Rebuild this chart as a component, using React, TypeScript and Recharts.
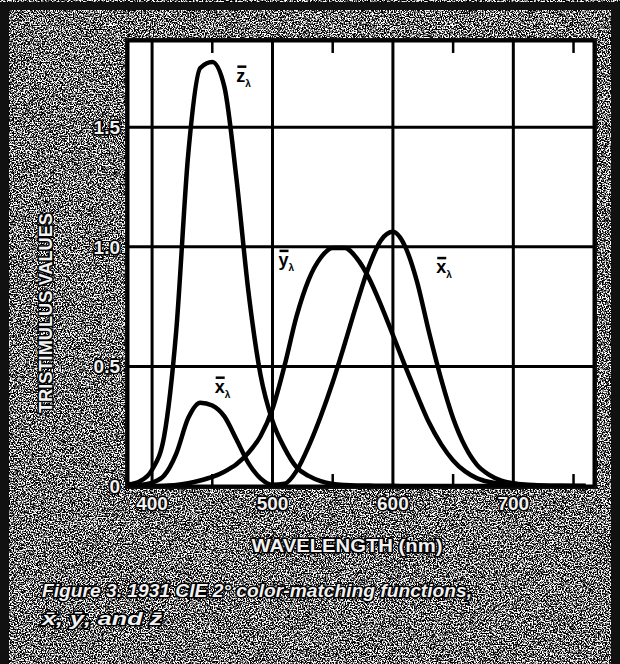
// @ts-nocheck
import { LineChart, Line, XAxis, YAxis, CartesianGrid, ReferenceLine, ReferenceDot } from 'recharts'

// CIE 1931 2° colour-matching functions, 10 nm steps
const wavelengths = [380, 390, 400, 410, 420, 430, 440, 450, 460, 470, 480, 490, 500, 510, 520, 530, 540, 550, 560, 570, 580, 590, 600, 610, 620, 630, 640, 650, 660, 670, 680, 690, 700, 710, 720, 730, 740, 750, 760]
const xBar = [0.0014, 0.0042, 0.0143, 0.0435, 0.1344, 0.2839, 0.3483, 0.3362, 0.2908, 0.1954, 0.0956, 0.032, 0.0049, 0.0093, 0.0633, 0.1655, 0.2904, 0.4334, 0.5945, 0.7621, 0.9163, 1.0263, 1.0622, 1.0026, 0.8544, 0.6424, 0.4479, 0.2835, 0.1649, 0.0874, 0.0468, 0.0227, 0.0114, 0.0058, 0.0029, 0.0014, 0.0007, 0.0003, 0.0002]
const yBar = [0.0000, 0.0001, 0.0004, 0.0012, 0.004, 0.0116, 0.023, 0.038, 0.06, 0.091, 0.139, 0.208, 0.323, 0.503, 0.71, 0.862, 0.954, 0.995, 0.995, 0.952, 0.87, 0.757, 0.631, 0.503, 0.381, 0.265, 0.175, 0.107, 0.061, 0.032, 0.017, 0.0082, 0.0041, 0.0021, 0.001, 0.0005, 0.0002, 0.0001, 0.0001]
const zBar = [0.0065, 0.0201, 0.0679, 0.2074, 0.6456, 1.3856, 1.7471, 1.7721, 1.6692, 1.2876, 0.813, 0.4652, 0.272, 0.1582, 0.0782, 0.0422, 0.0203, 0.0087, 0.0039, 0.0021, 0.0017, 0.0011, 0.0008, 0.0003, 0.0002, 0, 0, 0, 0, 0, 0, 0, 0, 0, 0, 0, 0, 0, 0]

const xTicks = [400, 500, 600, 700]
const minorTicks = [450, 550, 650, 750]
const yTicks = [0, 0.5, 1, 1.5]

const data = wavelengths.map((w, i) => ({ w, x: xBar[i], y: yBar[i], z: zBar[i] }))

const FONT = "'Liberation Sans Narrow', 'Liberation Sans', Arial, sans-serif"
const outlined = { fill: '#f2f2f2', stroke: '#000', strokeWidth: 3, paintOrder: 'stroke', fontFamily: FONT, fontWeight: 'bold' }

const XTick = ({ x, y, payload }) => (
  <text x={x} y={y + 16} textAnchor="middle" fontSize={19} {...outlined}>{payload.value}</text>
)
const YTick = ({ x, y, payload }) => (
  <text x={x} y={y + 7} textAnchor="end" fontSize={19} {...outlined}>
    {payload.value === 0 ? '0' : payload.value.toFixed(1)}
  </text>
)

const CurveLabel = ({ cx, cy, letter }) => (
  <g>
    <text x={cx} y={cy} fontSize={18} fontWeight="bold" fontFamily="'Liberation Sans', Arial, sans-serif" fill="#000">
      {letter}
      <tspan fontSize={10} dy={5}>λ</tspan>
    </text>
    <line x1={cx + 1} x2={cx + 10} y1={cy - 15} y2={cy - 15} stroke="#000" strokeWidth={2.5} />
  </g>
)

export default function App() {
  return (
    <div style={{ position: 'absolute', left: 0, top: 0, width: 620, height: 664, overflow: 'hidden' }}>
      <svg width={620} height={664} style={{ position: 'absolute', left: 0, top: 0 }}>
        <defs>
          <filter id="grain" x="0" y="0" width="100%" height="100%" colorInterpolationFilters="sRGB">
            <feTurbulence type="fractalNoise" baseFrequency="0.75" numOctaves="2" seed="7" />
            <feColorMatrix type="matrix" values="1 0 0 0 0  1 0 0 0 0  1 0 0 0 0  0 0 0 0 1" />
            <feComponentTransfer>
              <feFuncR type="linear" slope="6" intercept="-2.6" />
              <feFuncG type="linear" slope="6" intercept="-2.6" />
              <feFuncB type="linear" slope="6" intercept="-2.6" />
            </feComponentTransfer>
          </filter>
        </defs>
        <rect x={0} y={0} width={620} height={664} fill="#777" />
        <rect x={0} y={0} width={620} height={664} filter="url(#grain)" />
        <rect x={0} y={2} width={620} height={8} fill="#111" />
        <rect x={0} y={2} width={9} height={662} fill="#111" />
        <rect x={611} y={2} width={9} height={662} fill="#111" />
        <rect x={125} y={38} width={472} height={451} fill="#111" />
      </svg>
      <div style={{ position: 'absolute', left: 0, top: 0 }}>
        <LineChart width={620} height={664} data={data} margin={{ top: 41, right: 26, left: 68, bottom: 148 }}>
          <CartesianGrid stroke="#000" strokeWidth={3} fill="#fff" fillOpacity={1} />
          <XAxis dataKey="w" type="number" domain={[380, 767]} ticks={xTicks} allowDataOverflow height={30} axisLine={false} tickLine={false} tick={<XTick />} interval={0} />
          <YAxis type="number" domain={[0, 1.86]} ticks={yTicks} allowDataOverflow width={60} axisLine={false} tickLine={false} tick={<YTick />} interval={0} />
          {minorTicks.map(t => (
            <ReferenceLine key={'b' + t} segment={[{ x: t, y: 0 }, { x: t, y: 0.05 }]} stroke="#000" strokeWidth={2.5} />
          ))}
          {minorTicks.map(t => (
            <ReferenceLine key={'t' + t} segment={[{ x: t, y: 1.86 }, { x: t, y: 1.81 }]} stroke="#000" strokeWidth={2.5} />
          ))}
          <Line dataKey="z" type="monotone" stroke="#000" strokeWidth={4.5} dot={false} isAnimationActive={false} />
          <Line dataKey="y" type="monotone" stroke="#000" strokeWidth={4.5} dot={false} isAnimationActive={false} />
          <Line dataKey="x" type="monotone" stroke="#000" strokeWidth={4.5} dot={false} isAnimationActive={false} />
          <ReferenceDot x={470} y={1.69} r={0} shape={(p) => <CurveLabel cx={p.cx} cy={p.cy} letter="z" />} />
          <ReferenceDot x={505} y={0.92} r={0} shape={(p) => <CurveLabel cx={p.cx} cy={p.cy} letter="y" />} />
          <ReferenceDot x={636} y={0.89} r={0} shape={(p) => <CurveLabel cx={p.cx} cy={p.cy} letter="x" />} />
          <ReferenceDot x={452} y={0.39} r={0} shape={(p) => <CurveLabel cx={p.cx} cy={p.cy} letter="x" />} />
        </LineChart>
      </div>
      <svg width={620} height={664} style={{ position: 'absolute', left: 0, top: 0, pointerEvents: 'none' }}>
        <text x={0} y={0} transform="translate(52 313) rotate(-90)" textAnchor="middle" fontSize={18} textLength={200} lengthAdjust="spacingAndGlyphs" {...outlined}>TRISTIMULUS VALUES</text>
        <text x={347} y={552} textAnchor="middle" fontSize={19} textLength={191} lengthAdjust="spacingAndGlyphs" {...outlined}>WAVELENGTH (nm)</text>
        <text x={42} y={597} fontSize={19} fontStyle="italic" textLength={430} lengthAdjust="spacingAndGlyphs" {...outlined}>Figure 3. 1931 CIE 2° color-matching functions,</text>
        <text x={42} y={625} fontSize={19} fontStyle="italic" textLength={120} lengthAdjust="spacingAndGlyphs" {...outlined}>x̄, ȳ, and z̄</text>
      </svg>
    </div>
  )
}
